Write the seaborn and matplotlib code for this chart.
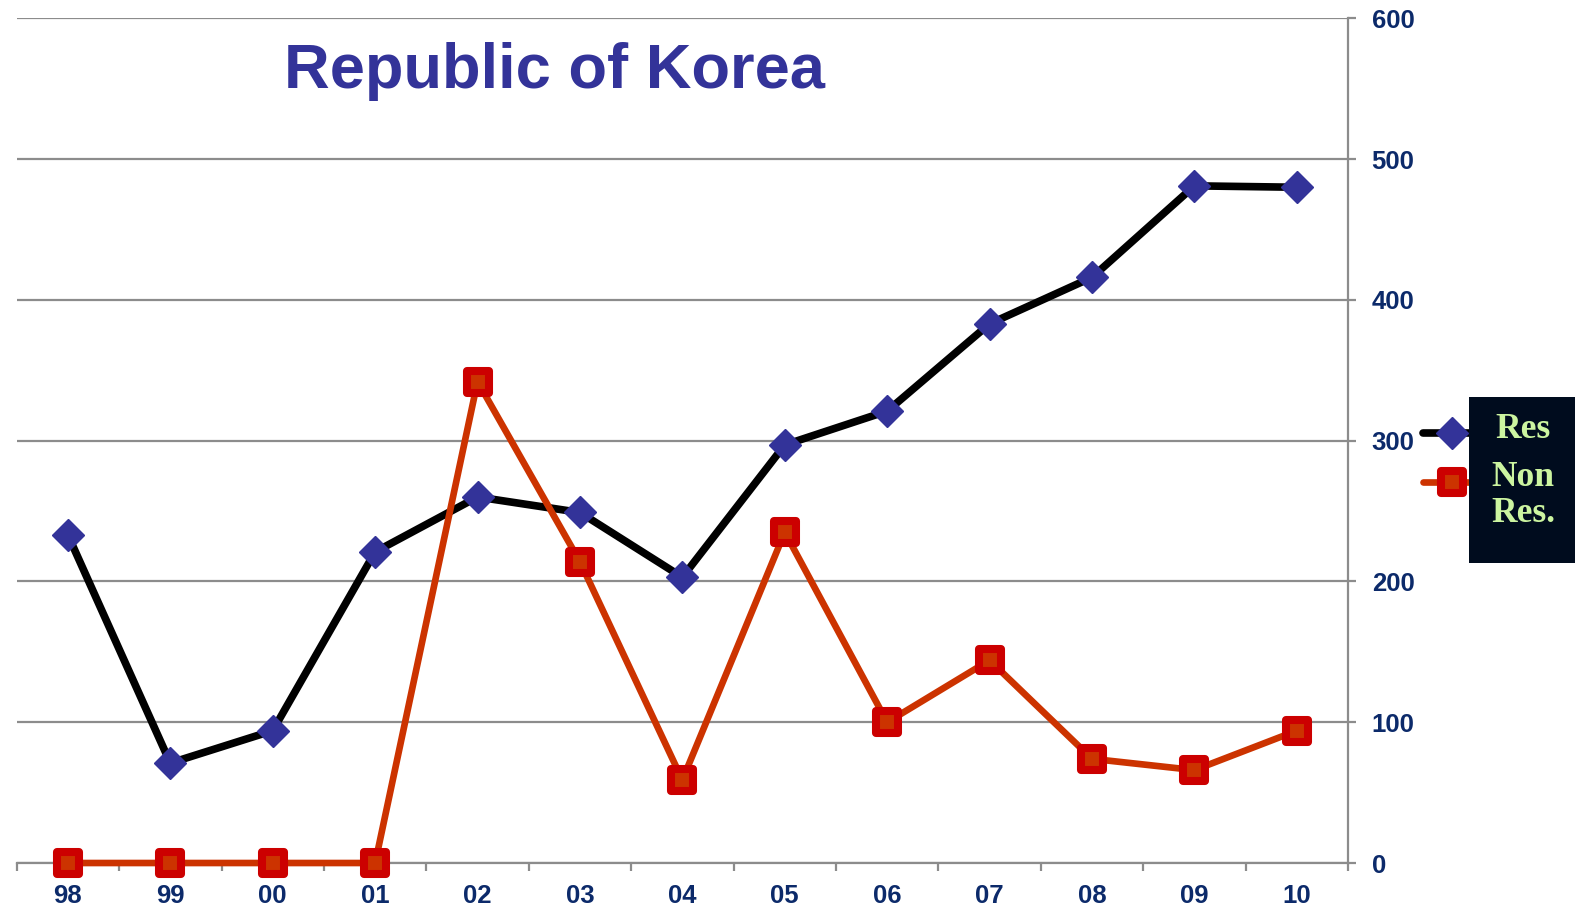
import numpy as np
import pandas as pd
import matplotlib
matplotlib.use('Agg')
import matplotlib.pyplot as plt
import seaborn as sns
from matplotlib.lines import Line2D
from matplotlib.markers import MarkerStyle
from matplotlib.patches import Rectangle

# dados
anos = ['98', '99', '00', '01', '02', '03', '04', '05', '06', '07', '08', '09', '10']
residentes = [233, 71, 94, 221, 260, 249, 203, 297, 321, 383, 416, 481, 480]
nao_residentes = [0, 0, 0, 0, 342, 214, 59, 235, 100, 144, 74, 66, 94]
y_ticks = [0, 100, 200, 300, 400, 500, 600]

AZUL = '#333399'
NAVY = '#0c2a6a'
LARANJA = '#cc3300'
VERMELHO = '#cc0000'
CINZA = '#8c8c8c'

sns.set_style('white')
plt.rcParams['font.family'] = ['Liberation Sans', 'DejaVu Sans']

fig = plt.figure(figsize=(15.75, 9.07), dpi=100)
ax = fig.add_axes([0.0106, 0.0485, 0.8453, 0.9313])

df = pd.DataFrame({'pos': np.arange(len(anos)), 'res': residentes, 'nres': nao_residentes})

quadrado = MarkerStyle('s', joinstyle='round')

sns.lineplot(data=df, x='pos', y='res', ax=ax, color='black', linewidth=5.5,
             marker='D', markersize=16, markerfacecolor=AZUL, markeredgecolor=AZUL,
             markeredgewidth=1, zorder=3, clip_on=False)
sns.lineplot(data=df, x='pos', y='nres', ax=ax, color=LARANJA, linewidth=4.8,
             marker=quadrado, markersize=16.5, markerfacecolor=LARANJA,
             markeredgecolor=VERMELHO, markeredgewidth=5.8, zorder=4, clip_on=False)

ax.set_xlim(-0.5, len(anos) - 0.5)
ax.set_ylim(0, 600)
ax.set_xlabel('')
ax.set_ylabel('')

# grade horizontal
for v in y_ticks:
    ax.axhline(v, color=CINZA, linewidth=1.6, zorder=1)

for lado in ['left', 'top']:
    ax.spines[lado].set_visible(False)
ax.spines['right'].set_color(CINZA)
ax.spines['right'].set_linewidth(1.6)
ax.spines['bottom'].set_color(CINZA)
ax.spines['bottom'].set_linewidth(1.6)

ax.yaxis.tick_right()
ax.set_yticks(y_ticks)
ax.set_yticklabels([str(v) for v in y_ticks])
ax.tick_params(axis='y', which='major', right=True, length=6, width=1.6, color=CINZA,
               direction='out', pad=11, labelsize=18.5, labelcolor=NAVY)

ax.set_xticks(np.arange(len(anos)))
ax.set_xticklabels(anos)
ax.set_xticks(np.arange(len(anos) + 1) - 0.5, minor=True)
ax.tick_params(axis='x', which='major', bottom=True, length=0, pad=15,
               labelsize=18.5, labelcolor=NAVY)
ax.tick_params(axis='x', which='minor', bottom=True, length=6, width=1.6,
               color=CINZA, direction='out')
for lbl in ax.get_xticklabels() + ax.get_yticklabels():
    lbl.set_fontweight('bold')

# título
fig.text(0.352, 0.9025, 'Republic of Korea', ha='center', va='baseline',
         fontsize=45.5, fontweight='bold', color=AZUL)

# legenda manual
H, W = 907.0, 1575.0
fig.add_artist(Line2D([1423 / W, 1480 / W], [1 - 433 / H, 1 - 433 / H], color='black',
                      linewidth=5.5, solid_capstyle='round', zorder=5))
fig.add_artist(Line2D([1452 / W], [1 - 433 / H], marker='D', markersize=16,
                      markerfacecolor=AZUL, markeredgecolor=AZUL, linestyle='none', zorder=6))
fig.add_artist(Line2D([1423 / W, 1480 / W], [1 - 482 / H, 1 - 482 / H], color=LARANJA,
                      linewidth=4.8, solid_capstyle='round', zorder=5))
fig.add_artist(Line2D([1452 / W], [1 - 482 / H], marker=quadrado, markersize=16.5,
                      markerfacecolor=LARANJA, markeredgecolor=VERMELHO, markeredgewidth=5.8,
                      linestyle='none', zorder=6))
fig.add_artist(Rectangle((1469 / W, 1 - 563 / H), (W - 1469) / W, (563 - 397) / H,
                         transform=fig.transFigure, facecolor='#000c1e', edgecolor='none',
                         zorder=7))
for txt, yy in [('Res', 430), ('Non', 477), ('Res.', 514)]:
    fig.text(1523 / W, 1 - yy / H, txt, ha='center', va='center', fontsize=25.5,
             fontweight='bold', family=['Liberation Serif', 'DejaVu Serif'],
             color='#ccf5a0', zorder=8)

fig.savefig('out.png', dpi=100)
